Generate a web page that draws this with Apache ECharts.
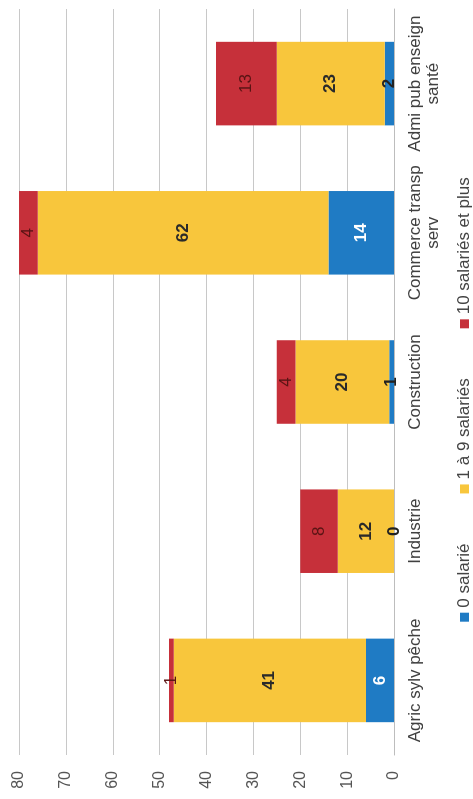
<!DOCTYPE html>
<html>
<head>
<meta charset="utf-8">
<script src="https://cdn.jsdelivr.net/npm/echarts@6/dist/echarts.min.js"></script>
<style>
html, body { margin:0; padding:0; width:473px; height:799px; overflow:hidden; background:#fff; }
#chart { position:absolute; left:0; top:0; width:799px; height:473px;
  transform-origin: 0 0; transform: translate(0px, 799px) rotate(-90deg); }
</style>
</head>
<body>
<div id="chart"></div>
<script>
const categories = ["Agric sylv pêche", "Industrie", "Construction", "Commerce transp\nserv", "Admi pub enseign\nsanté"];
const seriesNames = ["0 salarié", "1 à 9 salariés", "10 salariés et plus"];
const zeroSalarie = [6, 0, 1, 14, 2];
const unANeuf = [41, 12, 20, 62, 23];
const dixEtPlus = [1, 8, 4, 4, 13];
const valueTicks = [0, 10, 20, 30, 40, 50, 60, 70, 80];

const font = "Liberation Sans, Arial, sans-serif";
const colors = ["#1f7bc4", "#f8c63c", "#c6303a"];

function blueData(arr) {
  return arr.map(v => ({ value: v, label: { color: v >= 5 ? "#ffffff" : "#222222" } }));
}

const chart = echarts.init(document.getElementById('chart'), null, { renderer: 'canvas' });
chart.setOption({
  animation: false,
  color: colors,
  textStyle: { fontFamily: font },
  grid: { left: 44, right: 9, top: 19, bottom: 79, containLabel: false },
  legend: {
    data: seriesNames,
    bottom: 0,
    padding: 0,
    left: 'center',
    icon: 'rect',
    itemWidth: 9,
    itemHeight: 9,
    itemGap: 50,
    textStyle: { fontFamily: font, fontSize: 17, color: '#444' }
  },
  xAxis: {
    type: 'category',
    data: categories,
    axisLine: { lineStyle: { color: '#bdbdbd' } },
    axisTick: { show: false },
    axisLabel: { fontFamily: font, fontSize: 17, color: '#404040', margin: 12, lineHeight: 18, interval: 0 }
  },
  yAxis: {
    type: 'value',
    min: valueTicks[0],
    max: valueTicks[valueTicks.length - 1],
    interval: 10,
    axisLine: { show: false },
    axisTick: { show: false },
    splitLine: { lineStyle: { color: '#c8c8c8', width: 1 } },
    axisLabel: { fontFamily: font, fontSize: 16, color: '#555', margin: 16 }
  },
  series: [
    {
      name: seriesNames[0], type: 'bar', stack: 'total', barWidth: '56%',
      data: blueData(zeroSalarie),
      label: { show: true, position: 'inside', fontFamily: font, fontSize: 17, fontWeight: 'bold' }
    },
    {
      name: seriesNames[1], type: 'bar', stack: 'total', barWidth: '56%',
      data: unANeuf,
      label: { show: true, position: 'inside', fontFamily: font, fontSize: 17, fontWeight: 'bold', color: '#2a2a2a' }
    },
    {
      name: seriesNames[2], type: 'bar', stack: 'total', barWidth: '56%',
      data: dixEtPlus,
      label: { show: true, position: 'inside', fontFamily: font, fontSize: 17, color: '#5a1414' }
    }
  ]
});
</script>
</body>
</html>
